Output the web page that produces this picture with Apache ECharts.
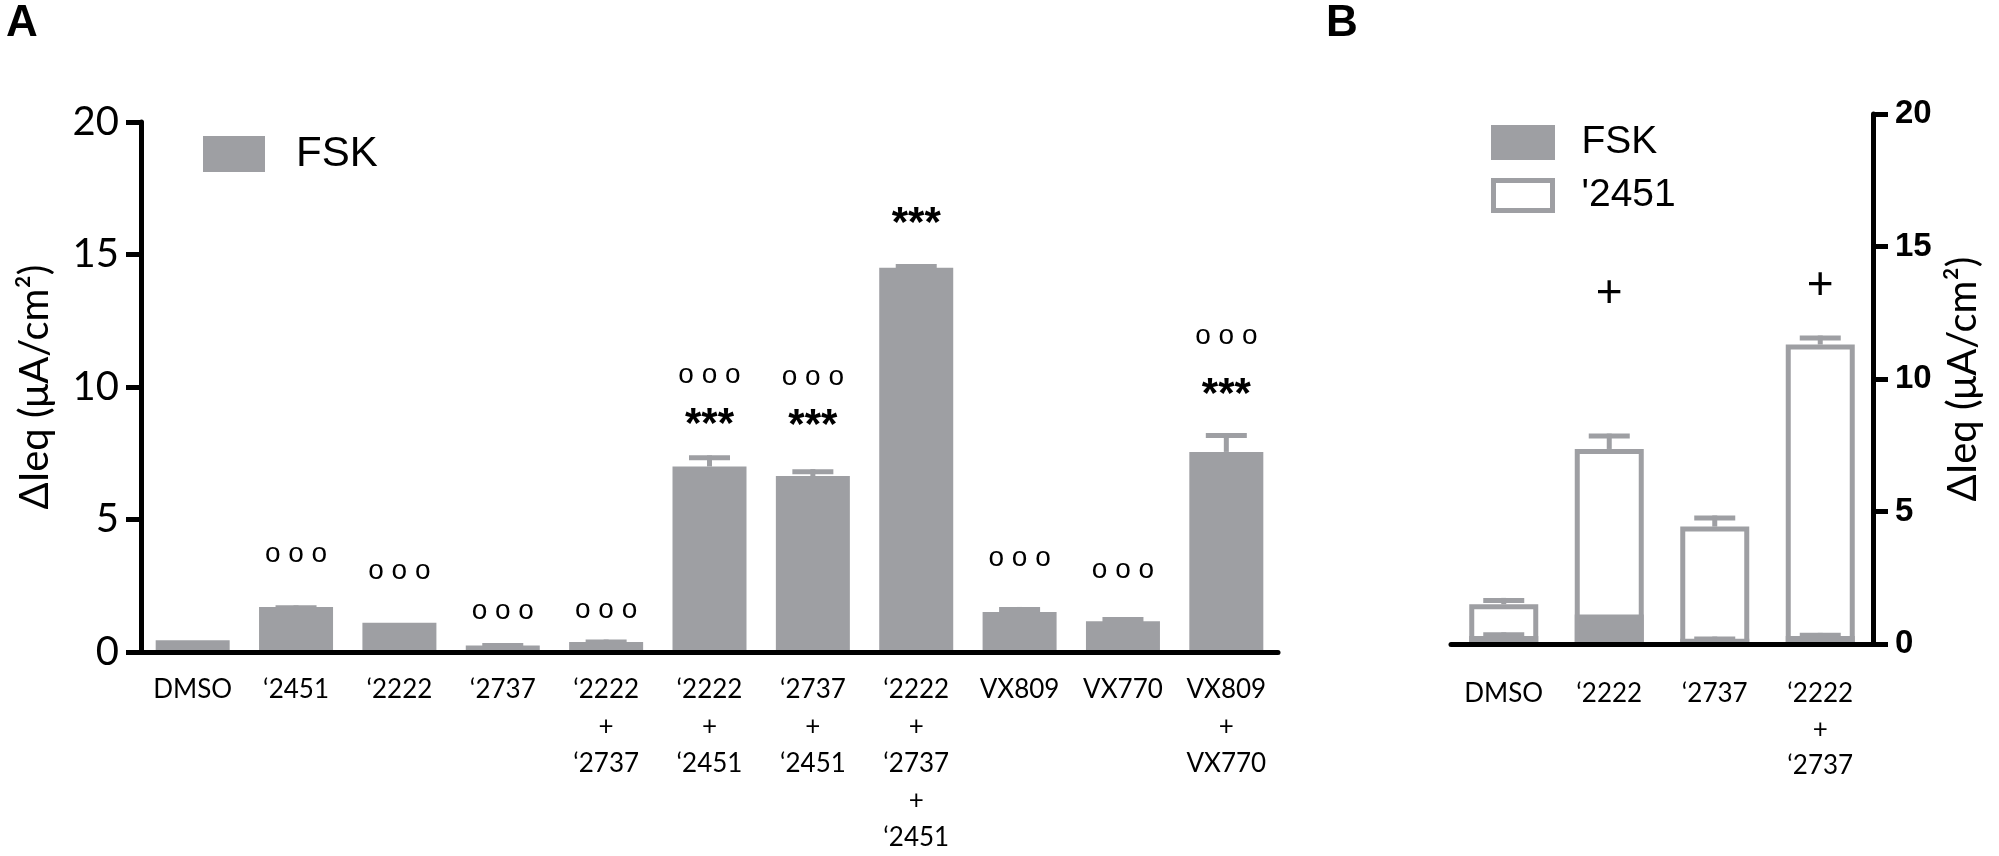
<!DOCTYPE html>
<html>
<head>
<meta charset="utf-8">
<script src="https://cdn.jsdelivr.net/npm/echarts@6/dist/echarts.min.js"></script>
<style>
  html, body { margin: 0; padding: 0; background: #fff; }
  #main { width: 1999px; height: 856px; }
</style>
</head>
<body>
<div id="main"></div>
<script>
// Panel A : FSK response per compound
var catA = ['DMSO', '‘2451', '‘2222', '‘2737', '‘2222\n+\n‘2737', '‘2222\n+\n‘2451',
            '‘2737\n+\n‘2451', '‘2222\n+\n‘2737\n+\n‘2451', 'VX809', 'VX770', 'VX809\n+\nVX770'];
var fskA  = [0.44, 1.70, 1.10, 0.25, 0.38, 7.00, 6.64, 14.50, 1.51, 1.16, 7.55];
var errA  = [0.44, 1.76, 1.10, 0.34, 0.47, 7.42, 6.90, 14.64, 1.70, 1.32, 8.26];
// significance marks (level, null = none)
var circA = [null, 3.61, 2.96, 1.45, 1.51, 10.35, 10.28, null, 3.46, 3.02, 11.83];
var starA = [null, null, null, null, null, 8.83, 8.77, 16.4, null, null, 9.96];

// Panel B : FSK and '2451 responses
var catB     = ['DMSO', '‘2222', '‘2737', '‘2222\n+\n‘2737'];
var fskB     = [0.30, 1.11, 0.20, 0.30];
var fskErrB  = [0.44, 1.11, 0.28, 0.42];
var cmpB     = [1.50, 7.36, 4.43, 11.30];
var cmpErrB  = [1.74, 7.94, 4.85, 11.64];
var plusB    = [null, 13.2, null, 13.5];

var yTicks = [0, 5, 10, 15, 20];
var GRAY = '#9e9fa3';

// 误差线
function errItem(params, api) {
  var i = api.value(0);
  var base = api.coord([i, api.value(1)]);
  var top = api.coord([i, api.value(2)]);
  var h = base[1] - top[1];
  if (h <= 0.5) return;
  return {
    type: 'group',
    children: [
      { type: 'rect', shape: { x: top[0] - 2.5, y: top[1], width: 5, height: h }, style: { fill: GRAY } },
      { type: 'rect', shape: { x: top[0] - 20.5, y: top[1], width: 41, height: 5 }, style: { fill: GRAY } }
    ]
  };
}

// 标注文字
function noteItem(text, font, dy) {
  return function (params, api) {
    var p = api.coord([api.value(0), api.value(1)]);
    return {
      type: 'text',
      x: p[0], y: p[1] + dy,
      style: { text: text, font: font, fill: '#000', align: 'center', verticalAlign: 'middle' }
    };
  };
}

function pick(arr) {
  var out = [];
  for (var i = 0; i < arr.length; i++) {
    if (arr[i] != null) out.push([i, arr[i]]);
  }
  return out;
}

var axisBlack = { color: '#000', width: 5 };

var myChart = echarts.init(document.getElementById('main'));
var option = {
  backgroundColor: '#fff',
  animation: false,
  graphic: [
    { type: 'text', left: 6, top: 2, style: { text: 'A', font: 'bold 44px "Liberation Sans"', fill: '#000' } },
    { type: 'text', left: 1326, top: 2, style: { text: 'B', font: 'bold 44px "Liberation Sans"', fill: '#000' } }
  ],
  legend: [
    {
      left: 198, top: 128, icon: 'rect',
      itemWidth: 62, itemHeight: 36,
      data: ['FSK'],
      textStyle: { fontSize: 42, fontFamily: 'Liberation Sans', color: '#000', padding: [0, 0, 0, 26] }
    },
    {
      left: 1486, top: 118, icon: 'rect',
      orient: 'vertical',
      itemWidth: 59, itemHeight: 30, itemGap: 14,
      data: [
        { name: 'FSK', itemStyle: { borderWidth: 5, borderColor: GRAY } },
        { name: "'2451", itemStyle: { borderWidth: 5, borderColor: GRAY } }
      ],
      textStyle: { fontSize: 39, fontFamily: 'Liberation Sans', color: '#000', padding: [0, 0, 0, 24] }
    }
  ],
  grid: [
    { left: 141, top: 122, width: 1137, height: 534 },
    { left: 1451, top: 114, width: 422, height: 530 }
  ],
  xAxis: [
    {
      gridIndex: 0, type: 'category', data: catA, z: 5,
      axisLine: { lineStyle: axisBlack },
      axisTick: { alignWithLabel: true, length: 16, lineStyle: axisBlack },
      axisLabel: { interval: 0, color: '#000', fontSize: 26, lineHeight: 37, fontFamily: 'Lato', margin: 19 }
    },
    {
      gridIndex: 1, type: 'category', data: catB, z: 5,
      axisLine: { lineStyle: axisBlack },
      axisTick: { alignWithLabel: true, length: 16, lineStyle: axisBlack },
      axisLabel: { interval: 0, color: '#000', fontSize: 26, lineHeight: 36, fontFamily: 'Lato', margin: 32 }
    }
  ],
  yAxis: [
    {
      gridIndex: 0, type: 'value', min: yTicks[0], max: yTicks[yTicks.length - 1], interval: 5, z: 5,
      axisLine: { show: true, lineStyle: axisBlack },
      axisTick: { show: true, length: 15, lineStyle: axisBlack },
      splitLine: { show: false },
      axisLabel: { color: '#000', fontSize: 40, fontFamily: 'Lato', margin: 22 },
      name: 'ΔIeq (μA/cm²)', nameLocation: 'middle', nameGap: 86, nameRotate: 90,
      nameTextStyle: { fontSize: 40, fontFamily: 'Lato', color: '#000' }
    },
    {
      gridIndex: 1, type: 'value', position: 'right', min: yTicks[0], max: yTicks[yTicks.length - 1], interval: 5, z: 5,
      axisLine: { show: true, lineStyle: axisBlack },
      axisTick: { show: true, length: 15, lineStyle: axisBlack },
      splitLine: { show: false },
      axisLabel: { color: '#000', fontSize: 33, fontWeight: 'bold', fontFamily: 'Liberation Sans', margin: 22 },
      name: 'ΔIeq (μA/cm²)', nameLocation: 'middle', nameGap: 70, nameRotate: 90,
      nameTextStyle: { fontSize: 40, fontFamily: 'Lato', color: '#000' }
    }
  ],
  series: [
    {
      name: 'FSK', type: 'bar', xAxisIndex: 0, yAxisIndex: 0,
      data: fskA, barWidth: 74, itemStyle: { color: GRAY }
    },
    {
      type: 'custom', xAxisIndex: 0, yAxisIndex: 0, renderItem: errItem, z: 2, clip: false,
      data: fskA.map(function (v, i) { return [i, v, errA[i]]; })
    },
    {
      type: 'custom', xAxisIndex: 0, yAxisIndex: 0, renderItem: noteItem('o o o', '28px "Liberation Sans"', -2), z: 3, clip: false,
      data: pick(circA)
    },
    {
      type: 'custom', xAxisIndex: 0, yAxisIndex: 0, renderItem: noteItem('***', 'bold 42px "Liberation Sans"', 7), z: 3, clip: false,
      data: pick(starA)
    },
    {
      name: 'FSK', type: 'bar', xAxisIndex: 1, yAxisIndex: 1,
      data: fskB, barWidth: 69, barGap: '-100%', z: 2,
      itemStyle: { color: GRAY, borderColor: GRAY, borderWidth: 5 }
    },
    {
      name: "'2451", type: 'bar', xAxisIndex: 1, yAxisIndex: 1,
      data: cmpB, barWidth: 69, barGap: '-100%', z: 3,
      itemStyle: { color: 'rgba(255,255,255,0)', borderColor: GRAY, borderWidth: 5 }
    },
    {
      type: 'custom', xAxisIndex: 1, yAxisIndex: 1, renderItem: errItem, z: 2, clip: false,
      data: fskB.map(function (v, i) { return [i, v, fskErrB[i]]; })
    },
    {
      type: 'custom', xAxisIndex: 1, yAxisIndex: 1, renderItem: errItem, z: 4, clip: false,
      data: cmpB.map(function (v, i) { return [i, v, cmpErrB[i]]; })
    },
    {
      type: 'custom', xAxisIndex: 1, yAxisIndex: 1, renderItem: noteItem('+', '46px "Liberation Sans"', 0), z: 3, clip: false,
      data: pick(plusB)
    }
  ]
};
myChart.setOption(option);
</script>
</body>
</html>
